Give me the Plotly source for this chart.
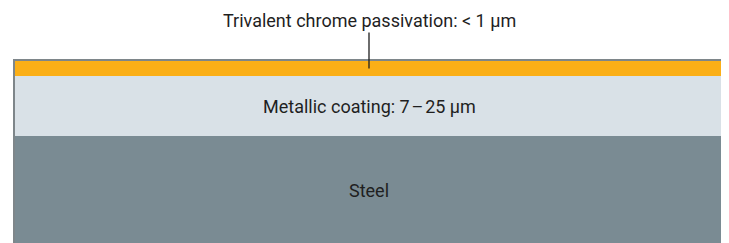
import plotly.graph_objects as go

# Layers from bottom to top
layer_names = ["Steel", "Metallic coating", "Trivalent chrome passivation"]
layer_labels = ["Steel", "Metallic coating: 7\u200a\u2013\u200a25 \u00b5m", "Trivalent chrome passivation: < 1 \u00b5m"]
layer_heights = [108, 60, 15]  # schematic display thickness
layer_colors = ["#7A8B93", "#D9E1E7", "#FBAF17"]

FONT = dict(family="Roboto", size=18, color="#1f1f1f")

fig = go.Figure()
for name, h, c in zip(layer_names, layer_heights, layer_colors):
    fig.add_trace(go.Bar(x=[0], y=[h], name=name, marker=dict(color=c, line=dict(width=0)),
                         width=1, hoverinfo="skip", showlegend=False))

annotations = []
base = 0
for i, (lab, h) in enumerate(zip(layer_labels, layer_heights)):
    mid = base + h / 2
    if i < 2:
        annotations.append(dict(x=0, y=mid, xref="x", yref="y", text=lab, showarrow=False,
                                xshift=-3, font=FONT))
    else:
        annotations.append(dict(x=0, y=mid, xref="x", yref="y", text=lab, showarrow=True,
                                arrowhead=0, arrowwidth=1.3, arrowcolor="#1f1f1f",
                                ax=0, ay=-48, axref="pixel", ayref="pixel",
                                xshift=-3, font=FONT))
    base += h

total = sum(layer_heights)
fig.update_layout(
    width=729, height=243,
    margin=dict(l=7, r=8, t=53, b=7),
    barmode="stack", bargap=0,
    plot_bgcolor="white", paper_bgcolor="white",
    xaxis=dict(range=[-0.5, 0.5], visible=True, showgrid=False, zeroline=False,
               showticklabels=False, ticks="", showline=True, mirror=True,
               linecolor="#7E868A", linewidth=1.5),
    yaxis=dict(range=[0, total], showgrid=False, zeroline=False, showticklabels=False,
               ticks="", showline=True, mirror=True, linecolor="#7E868A", linewidth=1.5),
    annotations=annotations,
)
fig.write_html("out.html")
